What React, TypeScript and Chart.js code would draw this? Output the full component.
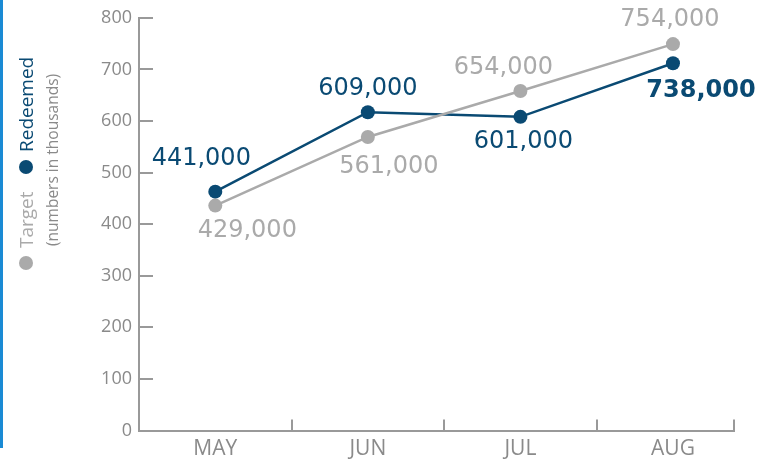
import React, { useEffect, useRef } from "react";
import { Chart, registerables } from "chart.js";

Chart.register(...registerables);

const months = ["MAY", "JUN", "JUL", "AUG"];
const redeemed = [463, 617, 608, 712];
const target = [436, 569, 658, 749];
const redeemedLabels = ["441,000", "609,000", "601,000", "738,000"];
const targetLabels = ["429,000", "561,000", "654,000", "754,000"];
const yTicks = [0, 100, 200, 300, 400, 500, 600, 700, 800];
const boundaries = [0.5, 1.5, 2.5, 3.4];

const BLUE = "#0a4a73";
const GRAY = "#aaaaaa";
const AXIS = "#999999";
const TEXT = "#8a8a8a";

// label offsets (style/layout), per dataset per point
const labelOffsets = [
  [[32, 25], [21, 30], [-17, -23], [-3, -24]],
  [[-14, -33], [0, -23], [3, 25], [28, 28]],
];
const labelBold = [
  [false, false, false, false],
  [false, false, false, true],
];

const decorPlugin = {
  id: "decor",
  beforeDraw(chart: any) {
    const ctx = chart.ctx;
    ctx.save();
    ctx.fillStyle = "#1a8ad4";
    ctx.fillRect(0, 0, 3, 448);
    const dot = (x: number, y: number, c: string) => {
      ctx.beginPath();
      ctx.arc(x, y, 7, 0, Math.PI * 2);
      ctx.fillStyle = c;
      ctx.fill();
    };
    dot(26, 263, GRAY);
    dot(26, 167, BLUE);
    const rtext = (t: string, x: number, y: number, font: string, c: string) => {
      ctx.save();
      ctx.translate(x, y);
      ctx.rotate(-Math.PI / 2);
      ctx.font = font;
      ctx.fillStyle = c;
      ctx.textAlign = "left";
      ctx.textBaseline = "alphabetic";
      ctx.fillText(t, 0, 0);
      ctx.restore();
    };
    rtext("Target", 33, 248, "19px 'Open Sans'", GRAY);
    rtext("Redeemed", 33, 152, "19px 'Open Sans'", BLUE);
    rtext("(numbers in thousands)", 58, 246, "15.5px 'Open Sans'", TEXT);
    ctx.restore();
  },
  afterDraw(chart: any) {
    const ctx = chart.ctx;
    const { left, bottom } = chart.chartArea;
    const xs = chart.scales.x;
    const ys = chart.scales.y;
    ctx.save();
    ctx.strokeStyle = AXIS;
    ctx.lineWidth = 2;
    yTicks.slice(1).forEach((v) => {
      const y = Math.round(ys.getPixelForValue(v));
      ctx.beginPath();
      ctx.moveTo(left, y);
      ctx.lineTo(left + 14, y);
      ctx.stroke();
    });
    boundaries.forEach((v) => {
      const x = Math.round(xs.getPixelForValue(v));
      ctx.beginPath();
      ctx.moveTo(x, bottom);
      ctx.lineTo(x, bottom - 11);
      ctx.stroke();
    });
    ctx.restore();
  },
  afterDatasetsDraw(chart: any) {
    const ctx = chart.ctx;
    ctx.save();
    ctx.textAlign = "center";
    ctx.textBaseline = "middle";
    chart.data.datasets.forEach((ds: any, di: number) => {
      const meta = chart.getDatasetMeta(di);
      meta.data.forEach((el: any, i: number) => {
        const [dx, dy] = labelOffsets[di][i];
        ctx.font = (labelBold[di][i] ? "bold " : "") + "24px 'DejaVu Sans'";
        ctx.fillStyle = ds.borderColor;
        ctx.fillText(ds.valueLabels[i], el.x + dx, el.y + dy);
      });
    });
    ctx.restore();
  },
};

export default function App() {
  const ref = useRef<HTMLCanvasElement>(null);
  useEffect(() => {
    document.body.style.margin = "0";
    const chart = new Chart(ref.current!, {
      type: "line",
      data: {
        datasets: [
          {
            label: "Target",
            data: target.map((v, i) => ({ x: i, y: v })),
            valueLabels: targetLabels,
            borderColor: GRAY,
            backgroundColor: GRAY,
            pointBackgroundColor: GRAY,
            pointBorderWidth: 0,
            pointRadius: 7,
            borderWidth: 2.5,
            tension: 0,
          } as any,
          {
            label: "Redeemed",
            data: redeemed.map((v, i) => ({ x: i, y: v })),
            valueLabels: redeemedLabels,
            borderColor: BLUE,
            backgroundColor: BLUE,
            pointBackgroundColor: BLUE,
            pointBorderWidth: 0,
            pointRadius: 7,
            borderWidth: 2.5,
            tension: 0,
          } as any,
        ],
      },
      options: {
        responsive: false,
        animation: false,
        layout: { padding: { top: 16, right: 38, left: 0, bottom: 0 } },
        plugins: { legend: { display: false }, tooltip: { enabled: false } },
        scales: {
          x: {
            type: "linear",
            min: -0.5,
            max: 3.4,
            grid: { display: false, drawTicks: false },
            border: { display: true, color: AXIS, width: 2 },
            afterBuildTicks: (s: any) => {
              s.ticks = months.map((_, i) => ({ value: i }));
            },
            afterFit: (s: any) => {
              s.height = 37.5;
            },
            ticks: {
              callback: (v: any) => months[v],
              font: { family: "'Open Sans'", size: 21 },
              color: TEXT,
              padding: 6,
              maxRotation: 0,
              autoSkip: false,
            },
          },
          y: {
            min: 0,
            max: 800,
            grid: { display: false, drawTicks: false },
            border: { display: true, color: AXIS, width: 2 },
            afterBuildTicks: (s: any) => {
              s.ticks = yTicks.map((v) => ({ value: v }));
            },
            afterFit: (s: any) => {
              s.width = 139;
            },
            ticks: {
              font: { family: "'Open Sans'", size: 18 },
              color: TEXT,
              padding: 7,
            },
          },
        },
      },
      plugins: [decorPlugin],
    } as any);
    return () => chart.destroy();
  }, []);
  return (
    <div style={{ width: 772, height: 468 }}>
      <canvas ref={ref} width={772} height={468} style={{ display: "block" }} />
    </div>
  );
}
